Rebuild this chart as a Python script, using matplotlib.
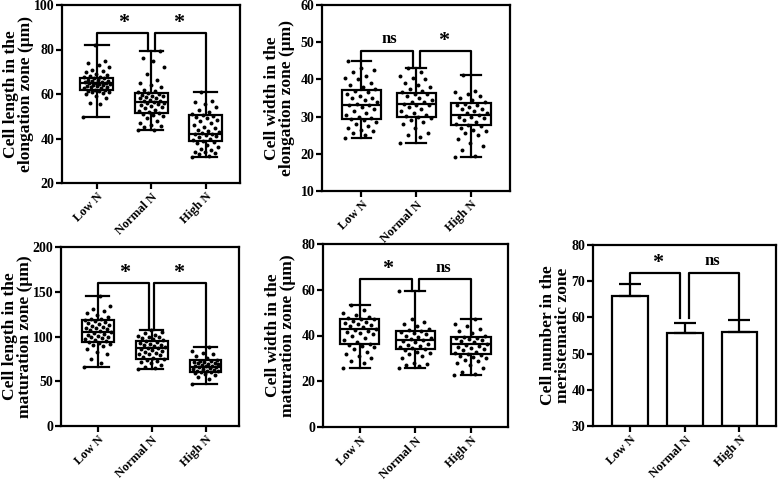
import numpy as np
import matplotlib.pyplot as plt

plt.rcParams['font.family'] = ['Liberation Serif', 'DejaVu Serif']
plt.rcParams['font.weight'] = 'bold'

groups = ['Low N', 'Normal N', 'High N']

# box stats per group: (min, q1, median, q3, max)
elong_len_box = [(49.5, 61.6, 64.9, 67.4, 82.0), (43.9, 51.4, 56.3, 60.4, 79.3), (31.5, 38.8, 42.1, 50.4, 60.8)]
elong_len_pts = [
    [49.5, 55.5, 56, 58, 59, 60, 60.5, 61, 61, 61.5, 61.5, 62, 62, 62.5, 62.5, 63, 63, 63.5, 63.5, 64, 64, 64.5,
     64.5, 65, 65, 65, 65.5, 65.5, 66, 66, 66.5, 66.5, 67, 67, 67.5, 67.5, 68, 68.5, 69, 70, 70.5, 71, 72, 73, 74, 75, 82],
    [43.9, 44, 45, 45.5, 46, 47, 48, 49, 50, 50.5, 51, 51.5, 52, 52.5, 53, 53.5, 54, 54.5, 55, 55.5, 56, 56, 56.5,
     57, 57, 57.5, 58, 58, 58.5, 59, 59, 59.5, 60, 60.5, 61, 61.5, 62, 63, 64, 65, 66.5, 69, 72, 75, 76, 79.3],
    [31.5, 32, 33, 33.5, 34, 34, 35, 35.5, 36, 37, 38, 38.5, 39, 39.5, 40, 40.5, 41, 41.5, 42, 42, 42.5, 43, 43.5,
     44, 44.5, 45, 46, 47, 48, 48.5, 49, 49.5, 50, 50.5, 51, 52, 53, 54, 55.5, 56.5, 57, 60.8],
]

elong_wid_box = [(24.2, 29.4, 33.1, 37.1, 45.0), (22.8, 30.0, 33.3, 36.4, 43.1), (19.2, 27.7, 30.5, 33.7, 41.3)]
elong_wid_pts = [
    [24.2, 25, 25.5, 26, 26.5, 27, 27.5, 28, 28.5, 29, 29.3, 29.6, 30, 30.5, 31, 31.5, 32, 32.5, 33, 33, 33.5, 34,
     34.5, 35, 35, 35.5, 36, 36.5, 37, 37.5, 38, 38.5, 39, 40, 40.5, 41, 42, 42.5, 43, 45],
    [22.8, 24.5, 25, 25.5, 27, 28, 28.5, 29, 29.5, 30, 30.2, 30.5, 31, 31.5, 32, 32.5, 33, 33, 33.5, 34, 34, 34.5,
     35, 35.5, 36, 36.2, 36.6, 37, 37.5, 38, 38.5, 39, 40, 40.5, 41, 42, 43.1],
    [19.2, 19.5, 21, 22, 23, 24, 25, 25.5, 26, 26.5, 27, 27.5, 27.8, 28, 28.5, 29, 29.5, 30, 30, 30.5, 31, 31, 31.5,
     32, 32, 32.5, 33, 33, 33.5, 34, 34.5, 35, 35.5, 36, 36.5, 37, 41.3],
]

mat_len_box = [(66.2, 94.2, 105.4, 118.4, 145.4), (63.4, 74.5, 86.8, 95.0, 107.5), (46.9, 60.7, 65.6, 73.7, 88.6)]
mat_len_pts = [
    [66.2, 70, 75, 80, 83, 86, 89, 91, 92, 93, 94, 95, 96, 97, 98, 99, 100, 101, 102, 103, 104, 105, 106, 107, 108,
     109, 110, 111, 112, 113, 114, 115, 116, 117, 118, 119, 120, 122, 124, 126, 128, 131, 134, 145.4],
    [63.4, 64.5, 66, 68, 70, 71.5, 73, 74, 75, 76, 77.5, 79, 80, 81, 82, 83, 84, 85, 86, 87, 87.5, 88, 89, 90, 91,
     92, 93, 94, 95, 96, 97, 98, 99, 100, 101, 102, 104, 105, 107.5],
    [46.9, 52, 55, 57, 58, 59, 60, 60.5, 61, 61.5, 62, 63, 63.5, 64, 65, 65.5, 66, 66.5, 67, 67.5, 68, 69, 69.5, 70,
     70.5, 71, 72, 72.5, 73, 74, 76, 78, 80, 82, 84, 88.6],
]

mat_wid_box = [(25.7, 36.3, 42.7, 47.1, 53.4), (26.0, 34.0, 38.0, 42.1, 59.6), (22.7, 31.8, 36.3, 39.2, 47.4)]
mat_wid_pts = [
    [25.7, 28, 29, 30, 31, 32, 33, 34, 35, 35.5, 36, 36.5, 37, 38, 39, 40, 40.5, 41, 41.5, 42, 42.5, 43, 43.5, 44,
     44.5, 45, 45.5, 46, 46.5, 47, 47, 47.5, 48, 49, 50, 51, 53.4],
    [26, 26.5, 27, 27.5, 28, 30, 31, 32, 32.5, 33, 33.5, 34, 34.5, 35, 35.5, 36, 36.5, 37, 37.5, 38, 38.5, 39,
     39.5, 40, 40.5, 41, 41.5, 42, 42.5, 43, 44, 45, 46, 47, 59.6],
    [22.7, 23, 24, 26, 27, 28, 29, 29.5, 30, 30.5, 31, 31.5, 32, 32.5, 33, 33.5, 34, 34.5, 35, 35.5, 36, 36.5, 37,
     37.5, 38, 38.5, 39, 39, 39.5, 40, 41, 42, 43, 44, 45, 47.4],
]

mer_mean = [65.9, 55.8, 56.1]
mer_err = [3.2, 2.7, 3.2]

W, H = 778, 480
fig = plt.figure(figsize=(W / 100, H / 100), dpi=100)


def make_axes(left, top, right, bottom):
    return fig.add_axes([left / W, 1 - bottom / H, (right - left) / W, (bottom - top) / H])


def style(ax, ylim, yticks, ylabel, xlim, label_gap):
    ax.set_xlim(*xlim)
    ax.set_ylim(*ylim)
    ax.set_yticks(yticks)
    ax.set_xticks(range(3))
    ax.set_xticklabels(groups, rotation=45, ha='right', rotation_mode='anchor', fontsize=9, fontweight='bold')
    for lab in ax.get_yticklabels():
        lab.set_fontsize(10)
        lab.set_fontweight('bold')
    for sp in ax.spines.values():
        sp.set_linewidth(1.6)
    ax.tick_params(width=1.6, length=4, pad=1.5)
    ax.set_ylabel(ylabel, fontsize=12.5, fontweight='bold', linespacing=0.88)
    # right edge of the label sits label_gap pixels left of the axes
    width_px = ax.get_position().width * W
    ax.yaxis.set_label_coords(-label_gap / width_px, 0.5)


def brackets(ax, y, legs, labels, gap):
    # legs: bottoms of (low, normal-left, normal-right, high)
    ax.plot([0, 0, 1 - gap, 1 - gap], [legs[0], y, y, legs[1]], color='black', lw=1.6, zorder=5)
    ax.plot([1 + gap, 1 + gap, 2, 2], [legs[2], y, y, legs[3]], color='black', lw=1.6, zorder=5)
    span = ax.get_ylim()[1] - ax.get_ylim()[0]
    for xc, lab in zip([0.5, 1.5], labels):
        if lab == '*':
            ax.text(xc, y, lab, ha='center', va='bottom', fontsize=16, fontweight='bold')
        else:
            ax.text(xc, y + span * 0.02, lab, ha='center', va='bottom', fontsize=12, fontweight='bold')


def box_panel(ax, box, pts, bwidth, cwidth, spread):
    stats = [dict(whislo=b[0], q1=b[1], med=b[2], q3=b[3], whishi=b[4]) for b in box]
    ax.bxp(stats, positions=range(3), widths=bwidth, showfliers=False, patch_artist=True, manage_ticks=False,
           boxprops=dict(facecolor='white', edgecolor='black', linewidth=1.6),
           medianprops=dict(color='black', linewidth=1.6),
           whiskerprops=dict(color='black', linewidth=1.6),
           capprops=dict(color='black', linewidth=1.6), capwidths=cwidth, zorder=2)
    for i, vals in enumerate(pts):
        vals = np.array(vals)
        n = len(vals)
        offs = ((np.arange(n) * 0.618034) % 1 - 0.5) * spread
        ax.scatter(i + offs, vals, s=8, color='black', zorder=4, linewidths=0)


ax1 = make_axes(62, 5, 240, 183)
box_panel(ax1, elong_len_box, elong_len_pts, 0.61, 0.43, 0.5)
style(ax1, (20, 100), [20, 40, 60, 80, 100], 'Cell length in the\nelongation zone (\u03bcm)', (-0.64, 2.63), 28)
brackets(ax1, 87.6, [82.0, 79.3, 79.3, 60.8], ['*', '*'], 0.06)

ax2 = make_axes(322, 5, 510, 191)
box_panel(ax2, elong_wid_box, elong_wid_pts, 0.72, 0.36, 0.6)
style(ax2, (10, 60), [10, 20, 30, 40, 50, 60], 'Cell width in the\nelongation zone (\u03bcm)', (-0.72, 2.71), 27)
brackets(ax2, 47.6, [45.0, 43.1, 43.1, 41.3], ['ns', '*'], 0.06)

ax3 = make_axes(61, 247, 239, 426)
box_panel(ax3, mat_len_box, mat_len_pts, 0.59, 0.43, 0.5)
style(ax3, (0, 200), [0, 50, 100, 150, 200], 'Cell length in the\nmaturation zone (\u03bcm)', (-0.68, 2.62), 28)
brackets(ax3, 160, [145.4, 107.5, 107.5, 88.6], ['*', '*'], 0.05)

ax4 = make_axes(323, 244, 508, 427)
box_panel(ax4, mat_wid_box, mat_wid_pts, 0.71, 0.36, 0.6)
style(ax4, (0, 80), [0, 20, 40, 60, 80], 'Cell width in the\nmaturation zone (\u03bcm)', (-0.66, 2.67), 27)
brackets(ax4, 64.5, [53.4, 59.6, 59.6, 47.4], ['*', 'ns'], 0.06)

ax5 = make_axes(593, 245, 776, 426)
ax5.bar(range(3), np.array(mer_mean) - 30, bottom=30, width=0.65, color='white', edgecolor='black',
        linewidth=1.6, zorder=2)
ax5.errorbar(range(3), mer_mean, yerr=[[0, 0, 0], mer_err], fmt='none', ecolor='black', elinewidth=1.6,
             capsize=8, capthick=1.6, zorder=3)
style(ax5, (30, 80), [30, 40, 50, 60, 70, 80], 'Cell number in the\nmeristematic zone', (-0.68, 2.67), 22)
brackets(ax5, 72.4, [69.1, 59.7, 59.7, 59.3], ['*', 'ns'], 0.08)

fig.savefig('out.png', dpi=100)
